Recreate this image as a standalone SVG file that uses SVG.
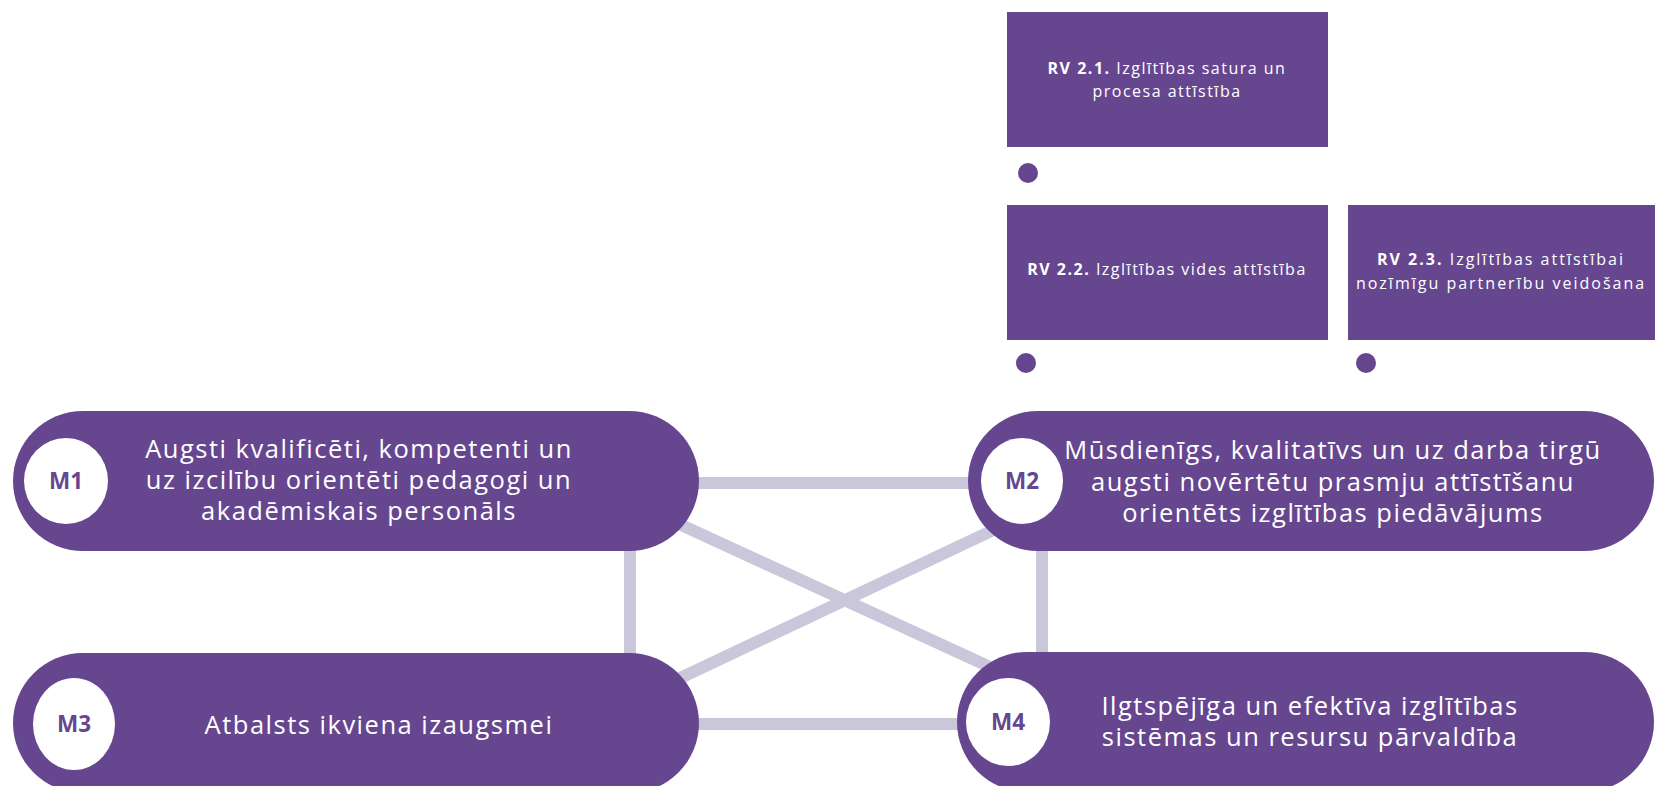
<svg xmlns="http://www.w3.org/2000/svg" width="1655" height="786" viewBox="0 0 1655 786">
<style>
.pill{fill:#66478f}
.box{fill:#66478f}
.dot{fill:#66478f}
.badge{fill:#ffffff}
.lbl{font-family:"Open Sans","Liberation Sans",sans-serif;font-size:22.5px;font-weight:700;fill:#66478f;text-anchor:middle}
.ptxt{font-family:"Open Sans","Liberation Sans",sans-serif;font-size:25.5px;fill:#ffffff;text-anchor:middle;letter-spacing:1.5px}
.btxt{font-family:"Open Sans","Liberation Sans",sans-serif;font-size:16px;fill:#ffffff;text-anchor:middle;letter-spacing:1.5px}
.wide{letter-spacing:2px}
.b{font-weight:700}
.conn{stroke:#cbc7da;stroke-width:12;fill:none}
</style>
<rect width="1655" height="786" fill="#ffffff"/>
<g id="connectors">
<line class="conn" x1="629" y1="483" x2="1042" y2="483"/>
<line class="conn" x1="630" y1="481" x2="630" y2="723"/>
<line class="conn" x1="1042" y1="481" x2="1042" y2="722"/>
<line class="conn" x1="629" y1="724" x2="1030" y2="724"/>
<line class="conn" x1="640" y1="506" x2="1040" y2="690"/>
<line class="conn" x1="640" y1="697" x2="1040" y2="508"/>
</g>
<g id="rv21">
<rect class="box" x="1007" y="12" width="321" height="135"/>
<text class="btxt" x="1167" y="74"><tspan class="b">RV 2.1.</tspan> Izglītības satura un</text>
<text class="btxt" x="1167" y="97">procesa attīstība</text>
<circle class="dot" cx="1028" cy="173" r="10"/>
</g>
<g id="rv22">
<rect class="box" x="1007" y="205" width="321" height="135"/>
<text class="btxt" x="1167" y="275"><tspan class="b">RV 2.2.</tspan> Izglītības vides attīstība</text>
<circle class="dot" cx="1026" cy="363" r="10"/>
</g>
<g id="rv23">
<rect class="box" x="1348" y="205" width="307" height="135"/>
<text class="btxt wide" x="1501" y="265"><tspan class="b">RV 2.3.</tspan> Izglītības attīstībai</text>
<text class="btxt wide" x="1501" y="289">nozīmīgu partnerību veidošana</text>
<circle class="dot" cx="1366" cy="363" r="10"/>
</g>
<g id="m1">
<rect class="pill" x="13" y="411" width="686" height="140" rx="70"/>
<ellipse class="badge" cx="66" cy="481" rx="42" ry="43"/>
<text class="lbl" x="66" y="489">M1</text>
<text class="ptxt" x="359" y="458">Augsti kvalificēti, kompetenti un</text>
<text class="ptxt" x="359" y="489">uz izcilību orientēti pedagogi un</text>
<text class="ptxt" x="359" y="520">akadēmiskais personāls</text>
</g>
<g id="m2">
<rect class="pill" x="968" y="411" width="686" height="140" rx="70"/>
<ellipse class="badge" cx="1022" cy="481" rx="41" ry="43"/>
<text class="lbl" x="1022" y="489">M2</text>
<text class="ptxt" x="1333" y="459">Mūsdienīgs, kvalitatīvs un uz darba tirgū</text>
<text class="ptxt" x="1333" y="491">augsti novērtētu prasmju attīstīšanu</text>
<text class="ptxt" x="1333" y="522">orientēts izglītības piedāvājums</text>
</g>
<g id="m3">
<rect class="pill" x="13" y="653" width="686" height="140" rx="70"/>
<ellipse class="badge" cx="74" cy="724" rx="41" ry="46"/>
<text class="lbl" x="74" y="732">M3</text>
<text class="ptxt" x="379" y="734">Atbalsts ikviena izaugsmei</text>
</g>
<g id="m4">
<rect class="pill" x="957" y="652" width="697" height="140" rx="70"/>
<ellipse class="badge" cx="1008" cy="722" rx="42" ry="44"/>
<text class="lbl" x="1008" y="730">M4</text>
<text class="ptxt" x="1310" y="715">Ilgtspējīga un efektīva izglītības</text>
<text class="ptxt" x="1310" y="746">sistēmas un resursu pārvaldība</text>
</g>
</svg>
